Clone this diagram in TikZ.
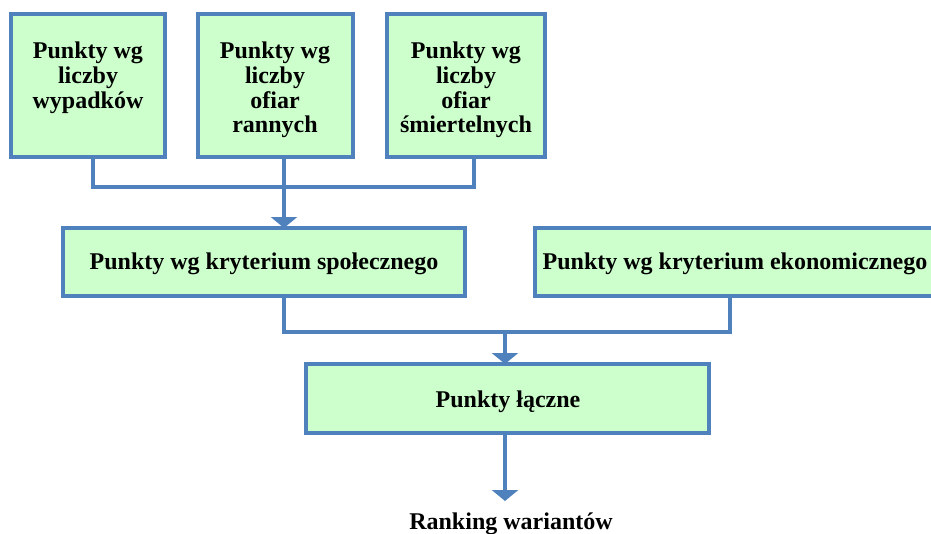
\documentclass[tikz,border=0pt]{standalone}
\usepackage{fontspec}
\setmainfont{Liberation Serif}
\usetikzlibrary{arrows.meta}
\definecolor{frame}{HTML}{4F81BD}
\definecolor{boxfill}{HTML}{CCFFCC}
\begin{document}
\begin{tikzpicture}[x=1pt,y=-1pt,
  box/.style={draw=frame,line width=4pt,fill=boxfill},
  lbl/.style={font=\fontsize{24}{24.6}\selectfont\bfseries,align=center,inner sep=0pt},
  link/.style={draw=frame,line width=4pt},
  tip/.style={-{Triangle[width=26pt,length=11pt]},draw=frame,line width=4pt}]
\useasboundingbox (0,0) rectangle (931,533);
\clip (0,0) rectangle (931,533);
% first row
\draw[box] (11,14) rectangle (165,157);
\draw[box] (198,14) rectangle (353,157);
\draw[box] (387,14) rectangle (545,157);
\node[lbl,anchor=north] (t1) at (88,42) {Punkty wg\\liczby\\wypadków};
\node[lbl,anchor=north] (t2) at (275,42) {Punkty wg\\liczby\\ofiar\\rannych};
\node[lbl,anchor=north] (t3) at (466,42) {Punkty wg\\liczby\\ofiar\\śmiertelnych};
\coordinate (b1) at (93,157);
\coordinate (b2) at (284,157);
\coordinate (b3) at (474,157);
% second row
\draw[box] (63,228) rectangle (465,296);
\draw[box] (535,228) rectangle (960,296);
\node[lbl] (soc) at (264,264) {Punkty wg kryterium społecznego};
\node[lbl] (eko) at (735,264) {Punkty wg kryterium ekonomicznego};
\coordinate (socTop) at (284,228);
\coordinate (socB) at (284,296);
\coordinate (ekoB) at (730,296);
% third row
\draw[box] (306,364) rectangle (709,433);
\node[lbl] (sum) at (508,402) {Punkty łączne};
\coordinate (sumTop) at (505,364);
\coordinate (sumB) at (505,433);
\node[lbl,anchor=base] (rank) at (511,529) {Ranking wariantów};
\coordinate (rankTop) at (505,501);
% connectors
\draw[link] (b1) |- (474,187) -- (b3);
\draw[tip] (b2) -- (socTop);
\draw[link] (socB) |- (730,332) -- (ekoB);
\draw[tip] (505,332) -- (sumTop);
\draw[tip] (sumB) -- (rankTop);
\end{tikzpicture}
\end{document}
